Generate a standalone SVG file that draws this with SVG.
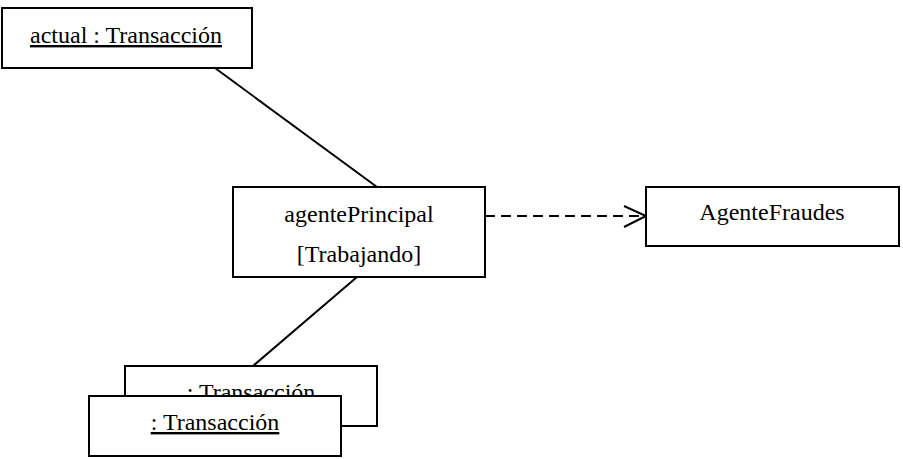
<svg xmlns="http://www.w3.org/2000/svg" width="903" height="459" viewBox="0 0 903 459">
<style>
.box{fill:#fff;stroke:#000;stroke-width:2}
.t{font-family:"Times New Roman","Liberation Serif","DejaVu Serif",serif;font-size:24px;fill:#000;text-anchor:middle}
.u{text-decoration:underline}
.ln{stroke:#000;stroke-width:2;fill:none}
</style>
<rect width="903" height="459" fill="#fff"/>
<g id="connectors">
<line class="ln" x1="215" y1="68" x2="377" y2="187"/>
<line class="ln" x1="357" y1="277" x2="253" y2="366"/>
<line class="ln" x1="485" y1="216" x2="645" y2="216" stroke-dasharray="10,6"/>
<polyline class="ln" points="624,206 646,216 624,227"/>
</g>
<g id="actual">
<rect class="box" x="2" y="8" width="250" height="60"/>
<text class="t u" x="126" y="43">actual : Transacción</text>
</g>
<g id="agentePrincipal">
<rect class="box" x="233" y="187" width="252" height="90"/>
<text class="t" x="359" y="222">agentePrincipal</text>
<text class="t" x="359" y="262">[Trabajando]</text>
</g>
<g id="AgenteFraudes">
<rect class="box" x="646" y="187" width="253" height="59"/>
<text class="t" x="772" y="220">AgenteFraudes</text>
</g>
<g id="transaccionBack">
<rect class="box" x="125" y="366" width="252" height="60"/>
<text class="t u" x="251" y="400">: Transacción</text>
</g>
<g id="transaccionFront">
<rect class="box" x="89" y="396" width="252" height="60"/>
<text class="t u" x="215" y="430">: Transacción</text>
</g>
</svg>
